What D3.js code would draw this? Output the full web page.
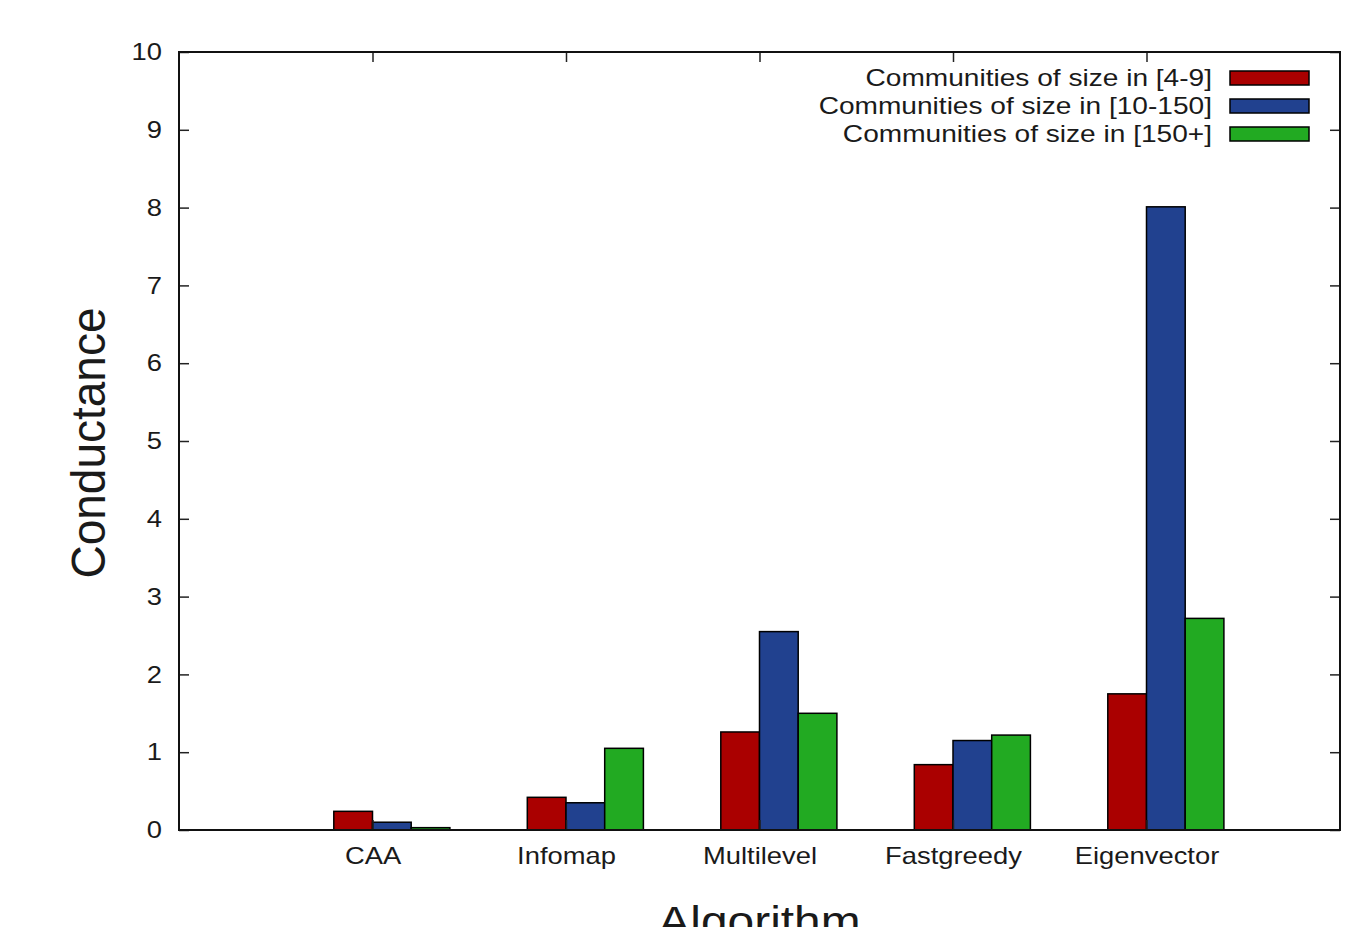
<!DOCTYPE html>
<meta charset="utf-8">
<script src="https://d3js.org/d3.v7.min.js"></script>
<style>
  body { margin: 0; background: #fff; }
  text { font-family: "Liberation Sans", Arial, sans-serif; fill: #1a1a1a; }
</style>
<div id="my_dataviz"></div>
<script>
// data
const algorithms = ["CAA", "Infomap", "Multilevel", "Fastgreedy", "Eigenvector"];
const seriesNames = [
    "Communities of size in [4-9]",
    "Communities of size in [10-150]",
    "Communities of size in [150+]"
];
const small = [0.24, 0.42, 1.26, 0.84, 1.75];
const medium = [0.10, 0.35, 2.55, 1.15, 8.01];
const large = [0.03, 1.05, 1.50, 1.22, 2.72];
const yTicks = [0, 1, 2, 3, 4, 5, 6, 7, 8, 9, 10];
const COLORS = ["#aa0000", "#21418f", "#22aa22"];

const series = [small, medium, large];

// the reference text is a bit wider than plain Arial
const STRETCH = 1.14;
const stretch = (sel, k) => sel.each(function () {
    var w = this.getComputedTextLength();
    d3.select(this).attr("textLength", w * (k || STRETCH)).attr("lengthAdjust", "spacingAndGlyphs");
});

// frame of the plot
var margin = { top: 52, right: 13, bottom: 97, left: 179 },
    width = 1353 - margin.left - margin.right,
    height = 927 - margin.top - margin.bottom;

var svg = d3.select("#my_dataviz")
    .append("svg")
    .attr("width", 1353)
    .attr("height", 927)
    .append("g")
    .attr("transform", "translate(" + margin.left + "," + margin.top + ")");

// gnuplot style: categories at 0..4, axis from -1 to 5
var x = d3.scaleLinear().domain([-1, 5]).range([0, width]);
var y = d3.scaleLinear().domain([0, 10]).range([height, 0]);
var boxW = 0.2; // width of one box in x units

// bars
var rows = [];
series.forEach((vals, s) => {
    vals.forEach((v, i) => {
        rows.push({ s: s, i: i, value: v });
    });
});

svg.append("g")
    .selectAll("rect")
    .data(rows)
    .enter().append("rect")
    .attr("x", d => x(d.i + (d.s - 1) * boxW))
    .attr("y", d => y(d.value))
    .attr("width", x(boxW) - x(0))
    .attr("height", d => height - y(d.value))
    .attr("fill", d => COLORS[d.s])
    .attr("stroke", "#000")
    .attr("stroke-width", 1.5);

// y axis, left (ticks pointing inside)
var yAxisL = svg.append("g")
    .call(d3.axisLeft(y).tickValues(yTicks).tickSizeInner(-10).tickSizeOuter(0).tickPadding(17));
yAxisL.select(".domain").remove();
yAxisL.selectAll("line").attr("stroke", "#222").attr("stroke-width", 1.5);
yAxisL.selectAll("text").attr("font-size", 24).attr("fill", "#1a1a1a")
    .style("font-family", "'Liberation Sans', Arial, sans-serif")
    .call(stretch);

// y axis, right mirror
var yAxisR = svg.append("g")
    .attr("transform", "translate(" + width + ",0)")
    .call(d3.axisRight(y).tickValues(yTicks).tickSizeInner(-10).tickSizeOuter(0).tickFormat(""));
yAxisR.select(".domain").remove();
yAxisR.selectAll("line").attr("stroke", "#222").attr("stroke-width", 1.5);

// x axis, bottom
var xAxisB = svg.append("g")
    .attr("transform", "translate(0," + height + ")")
    .call(d3.axisBottom(x).tickValues(d3.range(algorithms.length))
        .tickFormat(i => algorithms[i]).tickSizeInner(-10).tickSizeOuter(0).tickPadding(17));
xAxisB.select(".domain").remove();
xAxisB.selectAll("line").attr("stroke", "#222").attr("stroke-width", 1.5);
xAxisB.selectAll("text").attr("font-size", 24).attr("fill", "#1a1a1a")
    .style("font-family", "'Liberation Sans', Arial, sans-serif")
    .call(stretch);

// x axis, top mirror
var xAxisT = svg.append("g")
    .call(d3.axisTop(x).tickValues(d3.range(algorithms.length))
        .tickSizeInner(-10).tickSizeOuter(0).tickFormat(""));
xAxisT.select(".domain").remove();
xAxisT.selectAll("line").attr("stroke", "#222").attr("stroke-width", 1.5);

// frame
svg.append("rect")
    .attr("x", 0).attr("y", 0)
    .attr("width", width).attr("height", height)
    .attr("fill", "none")
    .attr("stroke", "#111")
    .attr("stroke-width", 2);

// axis titles
svg.append("text")
    .attr("transform", "translate(" + (-91) + "," + (height / 2 + 2) + ") rotate(-90) scale(1,1.03)")
    .attr("dy", "0.36em")
    .attr("text-anchor", "middle")
    .attr("font-size", 46)
    .text("Conductance");

svg.append("text")
    .attr("x", x(2))
    .attr("y", height + 106)
    .attr("text-anchor", "middle")
    .attr("font-size", 42)
    .text("Algorithm")
    .call(stretch);

// legend
var legend = svg.append("g")
    .selectAll("g")
    .data(seriesNames)
    .enter().append("g")
    .attr("transform", (d, i) => "translate(0," + (26 + i * 28) + ")");

legend.append("text")
    .attr("x", 1033)
    .attr("y", 0)
    .attr("dy", "0.35em")
    .attr("text-anchor", "end")
    .attr("font-size", 24)
    .text(d => d)
    .call(stretch, 1.17);

legend.append("rect")
    .attr("x", 1051)
    .attr("y", -7)
    .attr("width", 79)
    .attr("height", 14)
    .attr("fill", (d, i) => COLORS[i])
    .attr("stroke", "#000")
    .attr("stroke-width", 1.5);
</script>
